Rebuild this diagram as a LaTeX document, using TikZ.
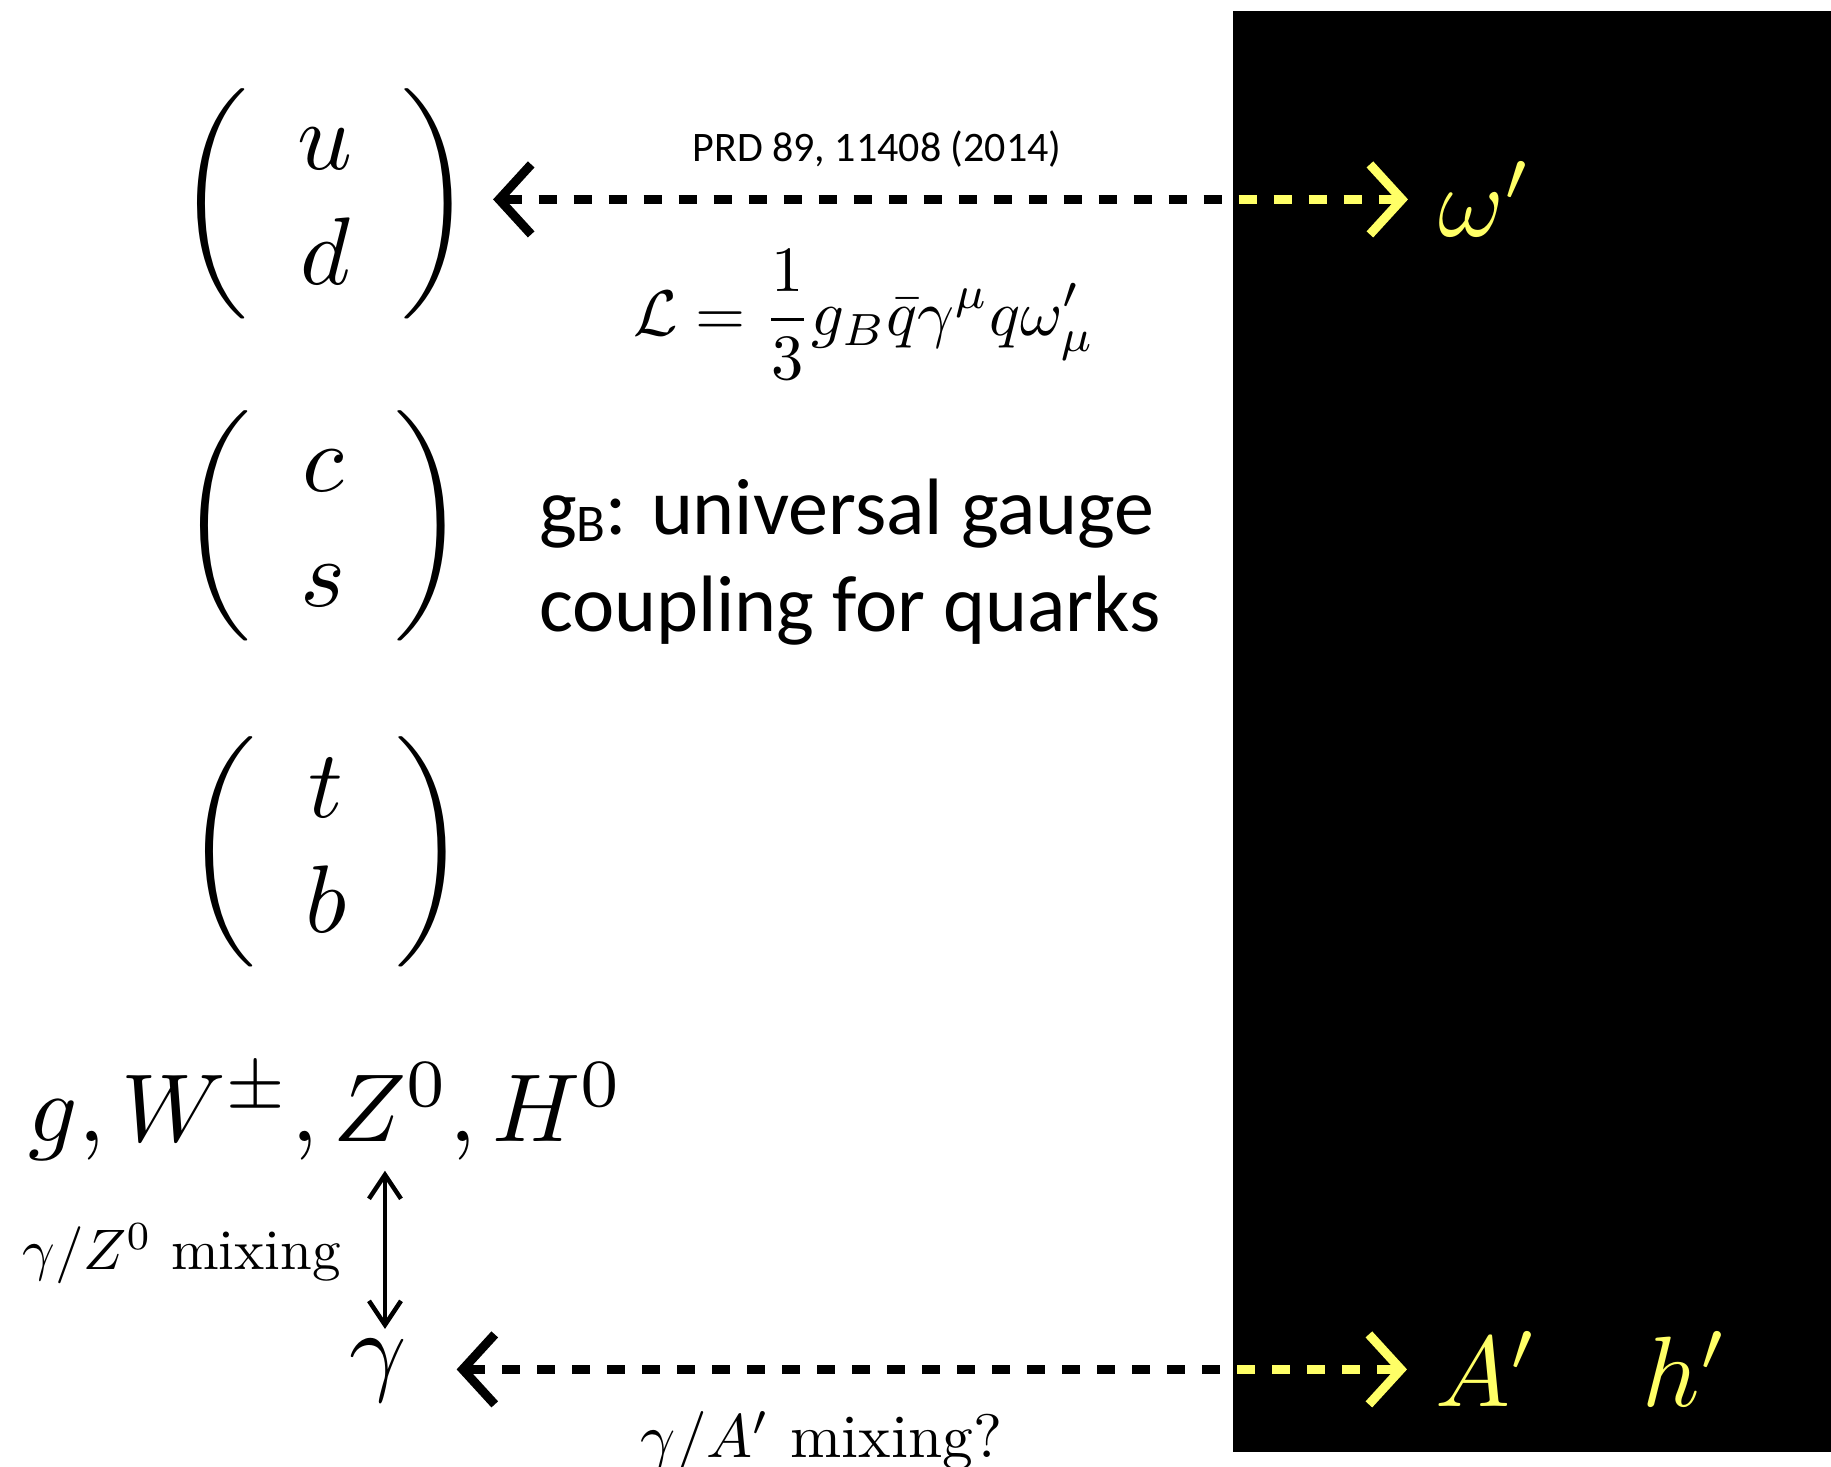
\documentclass[tikz,border=0pt]{standalone}
\usepackage{fontspec}
\newfontfamily\calib{Carlito}
\usetikzlibrary{arrows.meta}
\definecolor{ylw}{HTML}{FFFF66}
\begin{document}
\begin{tikzpicture}[x=0.1pt,y=-0.1pt,
  every node/.style={inner sep=0pt,outer sep=0pt},
  mat/.style={scale=0.96},
  bigm/.style={},
  sans/.style={font=\calib\fontsize{8}{9.7}\selectfont},
  dl/.style={line width=0.9pt, dash pattern=on 1.8pt off 1.7pt,
    arrows={Straight Barb[length=3.2pt,width=7pt]-Straight Barb[length=3.2pt,width=7pt]}},
  va/.style={line width=0.45pt,
    arrows={Straight Barb[length=2.4pt,width=3.2pt]-Straight Barb[length=2.4pt,width=3.2pt]}}]
\useasboundingbox (0,0) rectangle (1831,1467);
\fill[black] (1233,11) rectangle (1831,1452);
\setlength{\arraycolsep}{5.1pt}
% quark doublets
\node[mat] (ud) at (325,204) {$\left(\begin{array}{c} u\\ d\end{array}\right)$};
\node[mat] (cs) at (323,526) {$\left(\begin{array}{c} c\\ s\end{array}\right)$};
\node[mat] (tb) at (326,852) {$\left(\begin{array}{c} t\\ b\end{array}\right)$};
% bosons
\node[anchor=base west, scale=0.965] (gauge) at (29,1142) {$g, W^\pm, Z^0, H^0$};
\node[bigm, anchor=base] (gam) at (378,1383) {$\gamma$};
\node[scale=0.571, anchor=base east] (zmix) at (341,1270) {$\gamma/Z^0$ mixing};
\node[scale=0.614, anchor=base west] (amix) at (641,1458) {$\gamma/A'$ mixing?};
% texts
\node[scale=0.645] (lag) at (864,315) {$\displaystyle \mathcal{L} = \frac{1}{3} g_B \bar{q}\gamma^\mu q\omega'_\mu$};
\node[anchor=base, font=\calib\fontsize{4.2}{5}\selectfont] (prd) at (877,162) {PRD 89, 11408 (2014)};
\node[sans, anchor=base west] (gb1) at (539,535) {g\raisebox{-0.65pt}{\fontsize{5.3}{6}\selectfont B}: universal gauge};
\node[sans, anchor=base west] (gb2) at (539,632) {coupling for quarks};
% dark sector
\node[bigm, text=ylw, anchor=base west] (om) at (1439,237) {$\omega'$};
\node[bigm, text=ylw, anchor=base west] (Ap) at (1436,1407) {$A'$};
\node[bigm, text=ylw, anchor=base west] (hp) at (1643,1407) {$h'$};
% connectors
\draw[va, shorten <=1.1pt, shorten >=1pt] ([xshift=0.7pt]gam.north) -- ([xshift=0.7pt]gam.north |- gauge.south);
\draw[dl, shorten <=2.1pt, shorten >=3.1pt] (ud.east |- om.west) -- (om.west);
\draw[dl, shorten <=5pt, shorten >=2.9pt] (gam.east |- Ap.west) -- (Ap.west);
\begin{scope}
\clip (1233,11) rectangle (1831,1452);
\draw[dl, ylw, shorten <=2.1pt, shorten >=3.1pt] (ud.east |- om.west) -- (om.west);
\draw[dl, ylw, shorten <=5pt, shorten >=2.9pt] (gam.east |- Ap.west) -- (Ap.west);
\end{scope}
\end{tikzpicture}
\end{document}
